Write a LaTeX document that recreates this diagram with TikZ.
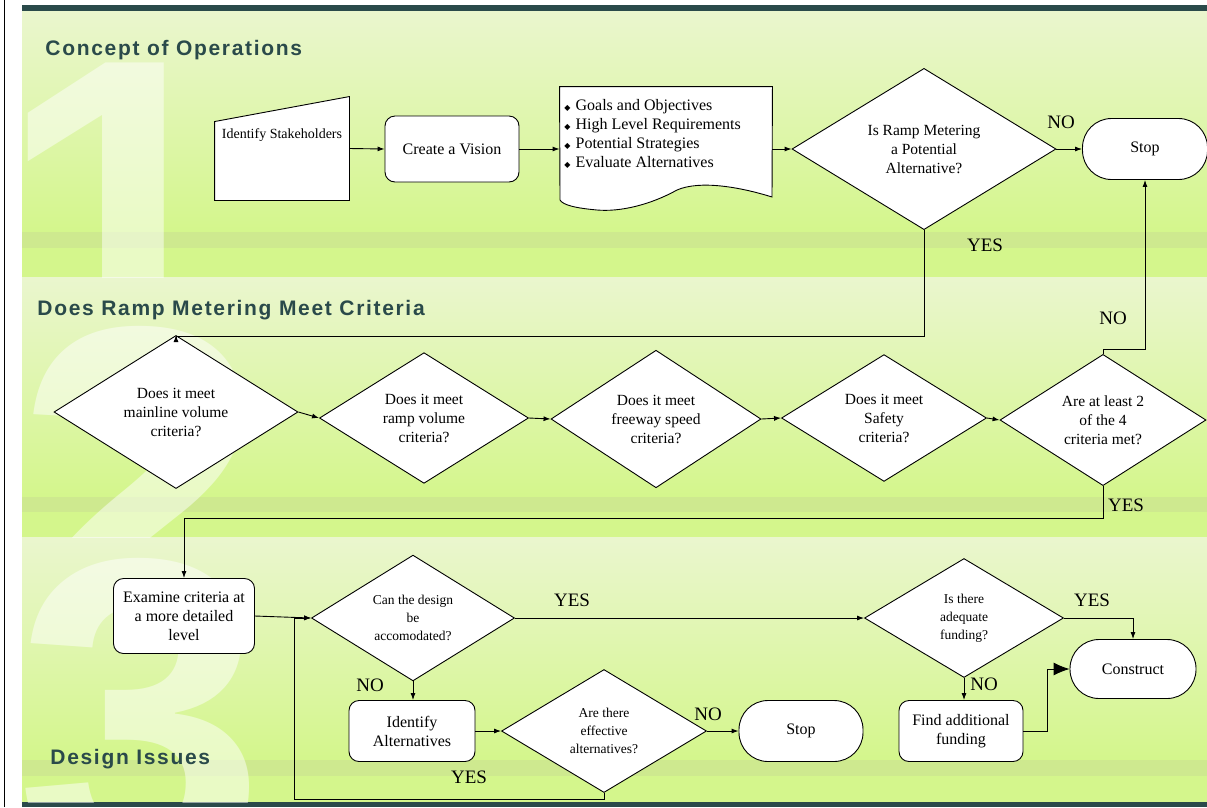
\documentclass[tikz,border=0pt]{standalone}
\usepackage{fontspec}
\setmainfont{Liberation Serif}
\newfontfamily\headfont[LetterSpace=8]{Liberation Sans}
\newfontfamily\digitfont{Liberation Sans}
\newfontfamily\symfont{DejaVu Sans}
\usetikzlibrary{shapes.geometric,arrows.meta}

\definecolor{headcol}{RGB}{42,74,74}
\definecolor{bandtop}{RGB}{234,246,206}
\definecolor{bandbot}{RGB}{212,246,140}
\definecolor{stripe}{RGB}{206,233,143}

\newcommand{\bul}{{\symfont\fontsize{8}{8}\selectfont ◆}\hspace{5pt}}

\tikzset{
    procbox/.style={draw, fill=white, rounded corners=10pt, align=center,
        inner sep=0pt, font=\fontsize{16}{19}\selectfont},
    endbox/.style={draw, fill=white, rounded corners=29pt, minimum width=125pt,
        minimum height=61pt, font=\fontsize{16}{19}\selectfont},
    decision/.style={draw, fill=white, diamond, align=center, inner sep=0pt,
        font=\fontsize{15.5}{19}\selectfont},
    smalldecision/.style={decision, font=\fontsize{13.5}{18}\selectfont},
    lbl/.style={inner sep=0pt, font=\fontsize{19}{19}\selectfont},
    head/.style={anchor=base west, inner sep=0pt, text=headcol,
        font=\headfont\bfseries\fontsize{21}{21}\selectfont},
    digit/.style={anchor=base west, inner sep=0pt, text=white, opacity=0.5,
        font=\digitfont\bfseries\fontsize{450}{450}\selectfont},
    flow/.style={-{Latex[length=7pt,width=5pt]}},
    bigflow/.style={-{Latex[length=16pt,width=13pt]}}
}

\begin{document}
\begin{tikzpicture}[x=1pt, y=-1pt, line width=0.9pt]
    \useasboundingbox (0,0) rectangle (1207,807);
    \fill[white] (0,0) rectangle (1207,807);
    \draw[line width=1.5pt] (4.5,0) -- (4.5,807);

    % bands
    \shade[top color=bandtop, bottom color=bandbot] (22,11) rectangle (1207,232);
    \fill[stripe] (22,232) rectangle (1207,248);
    \fill[bandbot] (22,248) rectangle (1207,277);
    \shade[top color=bandtop, bottom color=bandbot] (22,277) rectangle (1207,497);
    \fill[stripe] (22,497) rectangle (1207,512);
    \fill[bandbot] (22,512) rectangle (1207,537);
    \shade[top color=bandtop, bottom color=bandbot] (22,537) rectangle (1207,760);
    \fill[stripe] (22,760) rectangle (1207,776);
    \fill[bandbot] (22,776) rectangle (1207,802);
    \fill[headcol] (22,5) rectangle (1207,11);
    \fill[headcol] (22,802) rectangle (1207,807);

    \begin{scope}
        \clip (22,11) rectangle (1207,277);
        \node[digit] (one) at (-3,372) {1};
    \end{scope}
    \begin{scope}
        \clip (22,277) rectangle (1207,537);
        \node[digit] (two) at (15,640) {2};
    \end{scope}
    \begin{scope}
        \clip (22,537) rectangle (1207,802);
        \node[digit] (three) at (15,872) {3};
    \end{scope}

    \node[head] (h1) at (45,55) {Concept of Operations};
    \node[head] (h2) at (37,315) {Does Ramp Metering Meet Criteria};
    \node[head] (h3) at (50,764) {Design Issues};

    % concept of operations
    \node[minimum width=134pt, minimum height=103pt, inner sep=0pt] (stake) at (282,148.5) {};
    \draw[fill=white] (stake.south west) -- ([yshift=-25pt]stake.north west)
        -- (stake.north east) -- (stake.south east) -- cycle;
    \node[inner sep=0pt, font=\fontsize{14}{16}\selectfont] (staketext)
        at ([yshift=-39pt]stake.north) {Identify Stakeholders};
    \node[procbox, minimum width=134pt, minimum height=66pt] (vision) at (452,149) {Create a Vision};
    \node[minimum width=212pt, minimum height=111pt, inner sep=0pt] (doc) at (666,142.5) {};
    \draw[fill=white] (doc.north west) -- (doc.north east) -- (772,197)
        .. controls (740,187) and (700,180) .. (677,190)
        .. controls (650,205) and (620,212) .. (597,210)
        .. controls (575,208) and (563,205) .. (560,200) -- cycle;
    \node[anchor=north west, align=left, inner sep=0pt, font=\fontsize{16}{19}\selectfont] (goals)
        at (564,99) {\bul Goals and Objectives\\ \bul High Level Requirements\\
        \bul Potential Strategies\\ \bul Evaluate Alternatives};
    \node[decision, minimum width=264pt, minimum height=156pt] (pot) at (924,149)
        {Is Ramp Metering\\a Potential\\Alternative?};
    \node[endbox] (stopa) at (1145,149) {Stop};

    % criteria
    \node[decision, minimum width=244pt, minimum height=126pt] (mainline) at (176,412)
        {Does it meet\\mainline volume\\criteria?};
    \node[decision, minimum width=209pt, minimum height=126pt] (ramp) at (424,418)
        {Does it meet\\ramp volume\\criteria?};
    \node[decision, minimum width=210pt, minimum height=126pt] (speed) at (656,419)
        {Does it meet\\freeway speed\\criteria?};
    \node[decision, minimum width=205pt, minimum height=121pt] (safety) at (884,418)
        {Does it meet\\Safety\\criteria?};
    \node[decision, minimum width=206pt, minimum height=127pt] (atleast) at (1103,420)
        {Are at least 2\\of the 4\\criteria met?};

    % design issues
    \node[procbox, minimum width=141pt, minimum height=75pt] (exam) at (184,616)
        {Examine criteria at\\a more detailed\\level};
    \node[smalldecision, minimum width=203pt, minimum height=119pt] (design) at (413,618)
        {Can the design\\be\\accomodated?};
    \node[smalldecision, minimum width=199pt, minimum height=119pt] (fund) at (964,618)
        {Is there\\adequate\\funding?};
    \node[endbox, minimum width=126pt, minimum height=59pt] (construct) at (1133,669) {Construct};
    \node[procbox, minimum width=124pt, minimum height=61pt] (findfund) at (961,731)
        {Find additional\\funding};
    \node[procbox, minimum width=126pt, minimum height=61pt] (ident) at (412,731)
        {Identify\\Alternatives};
    \node[smalldecision, minimum width=205pt, minimum height=123pt] (effect) at (604,731)
        {Are there\\effective\\alternatives?};
    \node[endbox, minimum width=124pt] (stopb) at (801,731) {Stop};

    \node[lbl] (potno) at (1061,122) {NO};
    \node[lbl] (potyes) at (985,245) {YES};
    \node[lbl] (atno) at (1113,318) {NO};
    \node[lbl] (atyes) at (1126,505) {YES};
    \node[lbl] (designyes) at (572,600) {YES};
    \node[lbl] (designno) at (370,685) {NO};
    \node[lbl] (fundyes) at (1092,600) {YES};
    \node[lbl] (fundno) at (984,684) {NO};
    \node[lbl] (effectno) at (708,714) {NO};
    \node[lbl] (effectyes) at (469,777) {YES};

    \draw[flow] (stake.east) -- (vision.west);
    \draw[flow] (vision.east) -- (vision.east -| doc.west);
    \draw[flow] (doc.east |- pot.west) -- (pot.west);
    \draw[flow] (pot.east) -- (stopa.west);
    \draw[flow] (pot.south) -- ++(0,106) -| (mainline.north);
    \draw[flow] (mainline.east) -- (ramp.west);
    \draw[flow] (ramp.east) -- (speed.west);
    \draw[flow] (speed.east) -- (safety.west);
    \draw[flow] (safety.east) -- (atleast.west);
    \draw[flow] (atleast.north) -- ++(0,-5) -| (stopa.south);
    \draw[flow] (atleast.south) -- ++(0,32) -| (exam.north);
    \draw[flow] (exam.east) -- (design.west);
    \draw[flow] (design.east) -- (fund.west);
    \draw[flow] (fund.east) -| (construct.north);
    \draw[flow] (fund.south) -- (fund.south |- findfund.north);
    \draw[bigflow] (findfund.east) -- ++(24,0) |- (construct.west);
    \draw[flow] (design.south) -- (design.south |- ident.north);
    \draw[flow] (ident.east) -- (effect.west);
    \draw[flow] (effect.east) -- (stopb.west);
    \draw[flow] (effect.south) -- ++(0,6) -| ([xshift=-17pt]design.west) -- (design.west);
\end{tikzpicture}
\end{document}
